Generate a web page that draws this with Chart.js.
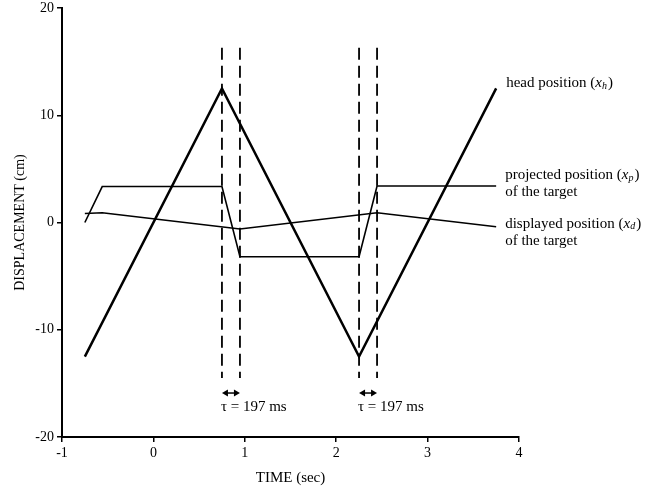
<!DOCTYPE html>
<html>
<head>
<meta charset="utf-8">
<script src="https://cdn.jsdelivr.net/npm/chart.js@4.4.0/dist/chart.umd.min.js"></script>
<style>
  html, body { margin: 0; padding: 0; background: #fff; }
</style>
</head>
<body>
<canvas id="chart" width="669" height="493"></canvas>
<script>
/* ── Data ─────────────────────────────────────────────── */
const headX  = [-0.75, 0.75, 2.25, 3.75];
const headY  = [-12.5, 12.5, -12.5, 12.5];

const projX  = [-0.75, -0.56, 0.75, 0.947, 2.25, 2.447, 3.75];
const projY  = [0, 3.35, 3.35, -3.2, -3.2, 3.4, 3.4];

const dispX  = [-0.75, -0.56, 0.947, 2.447, 3.75];
const dispY  = [0.85, 0.9, -0.6, 0.9, -0.4];

const lagStarts = [0.75, 2.25];   // sec
const lagMs     = 197;
const dashTop   = 16.3;
const dashBot   = -14.5;
const arrowY    = -15.9;
const lagTextY  = -17.2;

const xMin = -1, xMax = 4, xStep = 1;
const yMin = -20, yMax = 20, yStep = 10;

/* ── Helpers ──────────────────────────────────────────── */
const FONT = 'Liberation Serif';
const toPts = (xs, ys) => xs.map((x, i) => ({ x: x, y: ys[i] }));

const lagEnds = lagStarts.map(s => s + lagMs / 1000);
const dashSets = [];
lagStarts.concat(lagEnds).forEach(function (t) {
    dashSets.push({
        data        : [{ x: t, y: dashTop }, { x: t, y: dashBot }],
        borderColor : '#000',
        borderWidth : 1.8,
        borderDash  : [12, 6],
        pointRadius : 0,
        showLine    : true,
    });
});

/* ── Right-side labels and tau arrows ─────────────────── */
function drawSubLabel(ctx, px, py, text, sub) {
    ctx.font = '15px "' + FONT + '"';
    ctx.fillText(text + '(', px, py);
    let w = ctx.measureText(text + '(').width;
    ctx.font = 'italic 15px "' + FONT + '"';
    ctx.fillText('x', px + w, py);
    w += ctx.measureText('x').width;
    ctx.font = 'italic 10px "' + FONT + '"';
    ctx.fillText(sub, px + w, py + 3);
    w += ctx.measureText(sub).width;
    ctx.font = '15px "' + FONT + '"';
    ctx.fillText(')', px + w + 1, py);
}

const annotations = {
    id : 'annotations',
    afterDatasetsDraw(chart) {
        const { ctx, scales: { x, y } } = chart;
        ctx.save();
        ctx.fillStyle    = '#000';
        ctx.strokeStyle  = '#000';
        ctx.textAlign    = 'left';
        ctx.textBaseline = 'middle';

        // series labels, hung off the last point of each line
        const hx = x.getPixelForValue(headX[headX.length - 1]);
        const hy = y.getPixelForValue(headY[headY.length - 1]);
        drawSubLabel(ctx, hx + 10, hy - 5, 'head position ', 'h');

        const px = x.getPixelForValue(projX[projX.length - 1]);
        const py = y.getPixelForValue(projY[projY.length - 1]);
        drawSubLabel(ctx, px + 9, py - 11, 'projected position ', 'p');
        ctx.font = '15px "' + FONT + '"';
        ctx.fillText('of the target', px + 9, py + 6);

        const dx = x.getPixelForValue(dispX[dispX.length - 1]);
        const dy = y.getPixelForValue(dispY[dispY.length - 1]);
        drawSubLabel(ctx, dx + 9, dy - 3, 'displayed position ', 'd');
        ctx.font = '15px "' + FONT + '"';
        ctx.fillText('of the target', dx + 9, dy + 14);

        // tau arrows
        lagStarts.forEach(function (s, i) {
            const x1 = x.getPixelForValue(s);
            const x2 = x.getPixelForValue(lagEnds[i]);
            const ay = y.getPixelForValue(arrowY);
            ctx.lineWidth = 1.5;
            ctx.beginPath();
            ctx.moveTo(x1 + 4, ay);
            ctx.lineTo(x2 - 4, ay);
            ctx.stroke();
            ctx.beginPath();
            ctx.moveTo(x1, ay); ctx.lineTo(x1 + 6, ay - 3.5); ctx.lineTo(x1 + 6, ay + 3.5);
            ctx.closePath(); ctx.fill();
            ctx.beginPath();
            ctx.moveTo(x2, ay); ctx.lineTo(x2 - 6, ay - 3.5); ctx.lineTo(x2 - 6, ay + 3.5);
            ctx.closePath(); ctx.fill();

            ctx.font = '15px "' + FONT + '"';
            ctx.fillText('\u03C4 = ' + lagMs + ' ms', x1 - 1, y.getPixelForValue(lagTextY));
        });
        ctx.restore();
    },
};

/* ── Chart ────────────────────────────────────────────── */
const AXIS_TICKS  = { color: '#000', font: { family: FONT, size: 14 } };
const AXIS_GRID   = { drawOnChartArea: false, drawTicks: true, tickLength: 5, color: '#000', lineWidth: 1.5 };
const AXIS_BORDER = { display: true, color: '#000', width: 2 };

new Chart(document.getElementById('chart'), {
    type : 'scatter',
    data : {
        datasets : [
            {
                data        : toPts(headX, headY),
                borderColor : '#000',
                borderWidth : 2.5,
                pointRadius : 0,
                showLine    : true,
            },
            {
                data        : toPts(projX, projY),
                borderColor : '#000',
                borderWidth : 1.6,
                pointRadius : 0,
                showLine    : true,
            },
            {
                data        : toPts(dispX, dispY),
                borderColor : '#000',
                borderWidth : 1.5,
                pointRadius : 0,
                showLine    : true,
            },
        ].concat(dashSets),
    },
    options : {
        responsive : false,
        animation  : false,
        layout     : { padding: { left: 0, right: 150, top: 8, bottom: 0 } },
        plugins    : { legend: { display: false }, tooltip: { enabled: false } },
        scales : {
            x : {
                type   : 'linear',
                min    : xMin,
                max    : xMax,
                ticks  : { ...AXIS_TICKS, stepSize: xStep, padding: 3 },
                grid   : AXIS_GRID,
                border : AXIS_BORDER,
                title  : {
                    display : true,
                    text    : 'TIME (sec)',
                    color   : '#000',
                    font    : { family: FONT, size: 15 },
                    padding : { top: 0, bottom: 6 },
                },
                afterFit(scale) { scale.height = 56; },
            },
            y : {
                type   : 'linear',
                min    : yMin,
                max    : yMax,
                ticks  : { ...AXIS_TICKS, stepSize: yStep, padding: 3 },
                grid   : AXIS_GRID,
                border : AXIS_BORDER,
                title  : {
                    display : true,
                    text    : 'DISPLACEMENT (cm)',
                    color   : '#000',
                    font    : { family: FONT, size: 14 },
                    padding : { top: 12, bottom: 0 },
                },
                afterFit(scale) {
                    scale.width = 62;
                    scale.paddingTop = 0;
                    scale.paddingBottom = 0;
                },
            },
        },
    },
    plugins : [annotations],
});
</script>
</body>
</html>
